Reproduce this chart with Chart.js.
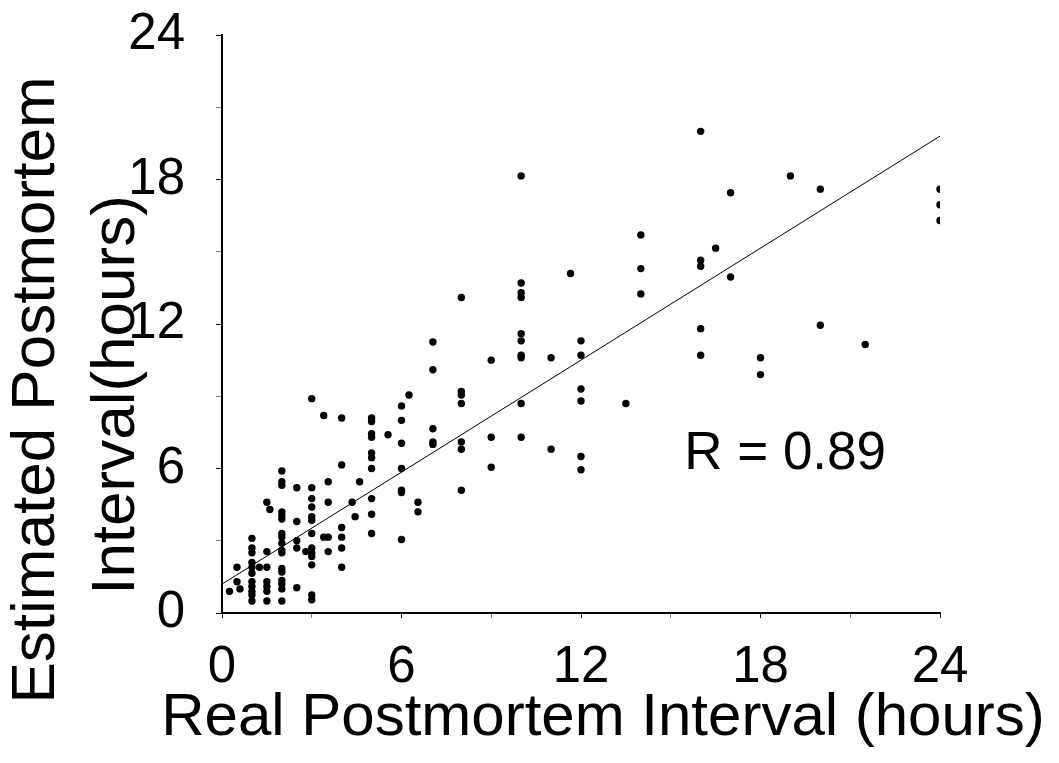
<!DOCTYPE html>
<html><head><meta charset="utf-8">
<script src="https://cdn.jsdelivr.net/npm/chart.js@4.4.1/dist/chart.umd.min.js"></script>
<style>html,body{margin:0;padding:0;background:#fff;}</style>
</head><body>
<canvas id="c" width="1059" height="763"></canvas>
<script>
// Real postmortem interval (hours) for each case
const realPMI = [
  0.25,
  0.5, 0.5, 0.6,
  1, 1, 1, 1, 1, 1, 1, 1, 1, 1, 1,
  1.25,
  1.5, 1.5, 1.5, 1.5, 1.5, 1.5, 1.5,
  1.6,
  2, 2, 2, 2, 2, 2, 2, 2, 2, 2, 2, 2, 2, 2, 2, 2, 2,
  2.5, 2.5, 2.5, 2.5, 2.5,
  2.8,
  3, 3, 3, 3, 3, 3, 3, 3, 3, 3, 3, 3, 3,
  3.4, 3.4,
  3.55, 3.55, 3.55, 3.55,
  4, 4, 4, 4, 4, 4,
  4.35, 4.45, 4.6,
  5, 5, 5, 5, 5, 5, 5, 5, 5, 5,
  5.55,
  6, 6, 6, 6, 6, 6, 6,
  6.25,
  6.55, 6.55,
  7.05, 7.05, 7.05, 7.05, 7.05,
  8, 8, 8, 8, 8, 8, 8,
  9, 9, 9,
  10, 10, 10, 10, 10, 10, 10, 10, 10, 10,
  11, 11,
  11.65,
  12, 12, 12, 12, 12, 12,
  13.5,
  14, 14, 14,
  16, 16, 16, 16, 16,
  16.5,
  17, 17,
  18, 18,
  19,
  20, 20,
  21.5,
  24, 24, 24
];
// Estimated postmortem interval (hours), same order
const estimatedPMI = [
  0.9,
  1.9, 1.3, 1.0,
  3.1, 2.7, 2.5, 2.1, 1.9, 1.65, 1.3, 1.1, 0.9, 0.75, 0.5,
  1.9,
  4.6, 2.55, 1.9, 1.3, 1.1, 0.9, 0.5,
  4.3,
  5.9, 5.45, 5.3, 4.2, 4.05, 3.9, 3.3, 3.15, 2.9, 2.6, 2.5, 1.85, 1.7, 1.35, 1.2, 1.0, 0.5,
  5.2, 3.8, 3.0, 2.7, 1.05,
  2.55,
  8.9, 5.2, 4.75, 4.4, 4.0, 3.85, 3.3, 2.7, 2.5, 2.35, 2.0, 0.75, 0.55,
  8.2, 3.15,
  5.45, 4.6, 3.15, 2.55,
  8.1, 6.15, 3.55, 3.15, 2.7, 1.9,
  4.6, 4.0, 5.45,
  8.1, 7.95, 7.45, 7.3, 6.65, 6.45, 6.0, 4.75, 4.1, 3.3,
  7.4,
  8.6, 8.0, 7.05, 6.0, 5.1, 5.0, 3.05,
  9.05,
  4.6, 4.2,
  11.25, 10.1, 7.65, 7.1, 7.0,
  13.1, 9.2, 9.05, 8.7, 7.1, 6.8, 5.1,
  10.5, 7.3, 6.05,
  18.15, 13.7, 13.3, 13.1, 11.6, 11.3, 10.7, 10.6, 8.7, 7.3,
  10.6, 6.8,
  14.1,
  11.3, 10.7, 9.3, 8.8, 6.5, 5.95,
  8.7,
  15.7, 14.3, 13.25,
  20.0, 14.65, 14.4, 11.8, 10.7,
  15.15,
  17.45, 13.95,
  10.6, 9.9,
  18.15,
  17.6, 11.95,
  11.15,
  17.6, 16.95, 16.3
];
// Regression line end points
const fitX = [0, 24];
const fitY = [1.2, 19.8];
// Axis ranges / tick labels
const axisMin = 0;
const axisMax = 24;
const tickStep = 3;
const labelStep = 6;
// Texts
const xTitle = 'Real Postmortem Interval (hours)';
const yTitle = ['Estimated Postmortem', 'Interval(hours)'];
const rText = 'R = 0.89';
const rPos = [15.45, 6.0];

const FONT = '"Liberation Sans", Arial, Helvetica, sans-serif';

const points = realPMI.map((x, i) => ({x: x, y: estimatedPMI[i]}));
const fitLine = fitX.map((x, i) => ({x: x, y: fitY[i]}));

const textPlugin = {
  id: 'texts',
  afterDraw(chart) {
    const ctx = chart.ctx;
    const sx = chart.scales.x, sy = chart.scales.y;
    ctx.save();
    ctx.fillStyle = '#000';
    // x title
    ctx.font = '60px ' + FONT;
    ctx.textAlign = 'center';
    ctx.textBaseline = 'alphabetic';
    ctx.fillText(xTitle, 603, 735);
    // y title (two lines)
    ctx.font = '62px ' + FONT;
    const yb = [54, 134];
    const yc = [390, 395];
    yTitle.forEach((t, i) => {
      ctx.save();
      ctx.translate(yb[i], yc[i]);
      ctx.rotate(-Math.PI / 2);
      ctx.fillText(t, 0, 0);
      ctx.restore();
    });
    // R annotation
    ctx.font = '53px ' + FONT;
    ctx.textAlign = 'left';
    ctx.fillText(rText, sx.getPixelForValue(rPos[0]), sy.getPixelForValue(rPos[1]));
    ctx.restore();
  }
};

new Chart(document.getElementById('c'), {
  type: 'scatter',
  data: {
    datasets: [
      {
        label: 'cases',
        data: points,
        backgroundColor: '#000',
        borderColor: '#000',
        pointRadius: 3.7,
        pointBorderWidth: 0,
        showLine: false
      },
      {
        label: 'fit',
        data: fitLine,
        showLine: true,
        borderColor: '#000',
        borderWidth: 1,
        pointRadius: 0,
        fill: false
      }
    ]
  },
  options: {
    responsive: false,
    animation: false,
    devicePixelRatio: 1,
    layout: { padding: { left: 0, right: 119, top: 35, bottom: 0 } },
    plugins: { legend: { display: false }, tooltip: { enabled: false } },
    scales: {
      x: {
        type: 'linear',
        min: axisMin, max: axisMax,
        afterFit: s => { s.height = 150; s.paddingLeft = 0; s.paddingRight = 0; },
        border: { display: true, color: '#000', width: 2 },
        grid: { drawOnChartArea: false, drawTicks: true, tickLength: 5,
          tickColor: c => (c.tick && c.tick.value % labelStep === 0) ? '#000' : 'rgba(0,0,0,0.5)' },
        ticks: {
          stepSize: tickStep, color: '#000', padding: 19, maxRotation: 0, autoSkip: false,
          font: { family: FONT, size: 51 },
          callback: v => (v % labelStep === 0 ? String(v) : '')
        }
      },
      y: {
        type: 'linear',
        min: axisMin, max: axisMax,
        afterFit: s => { s.width = 222; s.paddingTop = 0; s.paddingBottom = 0; },
        border: { display: true, color: '#000', width: 2 },
        grid: { drawOnChartArea: false, drawTicks: true, tickLength: 6,
          tickColor: c => (c.tick && c.tick.value % labelStep === 0) ? '#000' : 'rgba(0,0,0,0.5)' },
        ticks: {
          stepSize: tickStep, color: '#000', padding: 31, autoSkip: false,
          font: { family: FONT, size: 51 },
          callback: v => (v % labelStep === 0 ? String(v) : '')
        }
      }
    }
  },
  plugins: [textPlugin]
});
</script>
</body></html>
